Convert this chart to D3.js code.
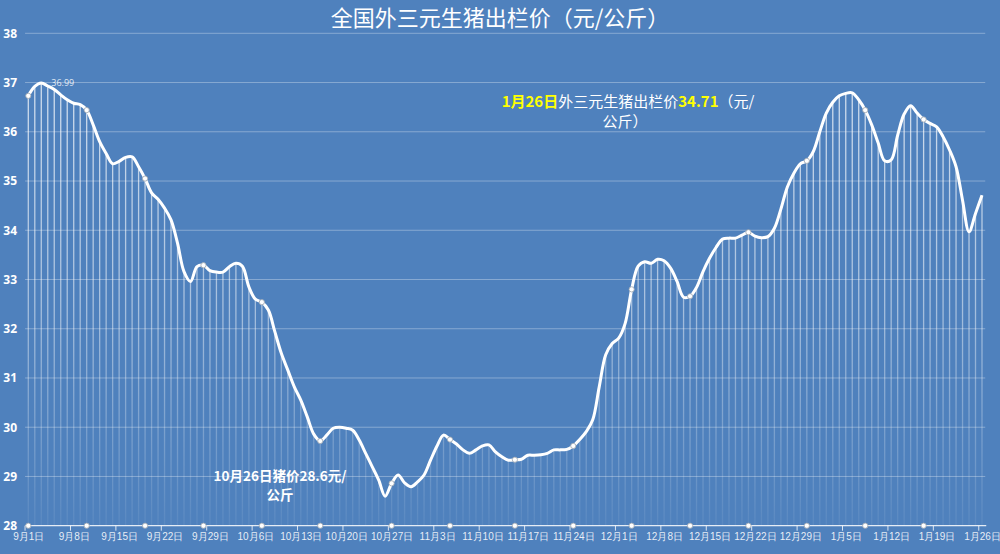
<!DOCTYPE html>
<html><head><meta charset="utf-8">
<script src="https://cdn.jsdelivr.net/npm/d3@7"></script>
<style>
html,body{margin:0;padding:0;background:#4f81bd;}
svg{display:block;font-family:"Noto Sans CJK SC","Noto Sans",sans-serif;}
</style></head>
<body>
<svg id="c" width="1000" height="554"></svg>
<script>
const title = "全国外三元生猪出栏价（元/公斤）";
const dayCount = 148; // daily categories, 9月1日 .. 1月26日
const prices = [
36.73,36.92,36.99,36.93,36.86,36.75,36.65,36.58,36.55,36.44,
36.14,35.80,35.56,35.35,35.40,35.48,35.49,35.29,35.05,34.76,
34.63,34.45,34.21,33.74,33.16,32.96,33.26,33.29,33.18,33.15,
33.15,33.26,33.33,33.27,32.85,32.60,32.54,32.38,31.94,31.50,
31.16,30.82,30.55,30.21,29.86,29.72,29.84,29.98,30.00,29.98,
29.94,29.74,29.47,29.20,28.93,28.60,28.86,29.03,28.87,28.79,
28.89,29.03,29.33,29.62,29.84,29.75,29.66,29.54,29.47,29.54,
29.62,29.64,29.50,29.40,29.33,29.34,29.35,29.43,29.43,29.44,
29.47,29.54,29.54,29.55,29.62,29.75,29.91,30.15,30.82,31.47,
31.70,31.81,32.11,32.80,33.27,33.36,33.33,33.41,33.38,33.23,
32.96,32.64,32.66,32.84,33.16,33.43,33.65,33.82,33.84,33.84,
33.90,33.96,33.88,33.85,33.87,34.04,34.43,34.88,35.16,35.35,
35.41,35.60,36.00,36.38,36.60,36.73,36.78,36.79,36.65,36.44,
36.14,35.77,35.41,35.43,35.93,36.36,36.53,36.38,36.25,36.17,
36.10,35.90,35.63,35.29,34.61,33.97,34.34,34.71];
const markerIdx = [0,9,18,27,36,45,56,65,75,84,93,102,111,120,129,138];
const tickIdx = [0,7,14,21,28,35,42,49,56,63,70,77,84,91,98,105,112,119,126,133,140,147];
const tickLabels = ["9月1日","9月8日","9月15日","9月22日","9月29日","10月6日","10月13日","10月20日","10月27日","11月3日","11月10日","11月17日","11月24日","12月1日","12月8日","12月15日","12月22日","12月29日","1月5日","1月12日","1月19日","1月26日"];
const yTicks = [28,29,30,31,32,33,34,35,36,37,38];
const peakLabelIdx = 2;
const note1 = [["1月26日","y"],["外三元生猪出栏价","w"],["34.71","y"],["（元/","w"]];
const note1b = "公斤）";
const note2 = ["10月26日猪价28.6元/","公斤"];

const svg = d3.select("#c");
const W=1000,H=554;
svg.append("rect").attr("width",W).attr("height",H).attr("fill","#4f81bd");

const idx = d3.range(dayCount);
const x = d3.scaleLinear().domain([0,dayCount-1]).range([28.3,982]);
const step = x(1)-x(0);
const y = d3.scaleLinear().domain([28,38]).range([525.7,33.3]);
const left = x(0)-step/2, right = x(dayCount-1)+step/2;

const defs = svg.append("defs");
const g = defs.append("linearGradient").attr("id","dg").attr("gradientUnits","userSpaceOnUse")
  .attr("x1",0).attr("x2",0).attr("y1",y(38)).attr("y2",y(28));
g.append("stop").attr("offset","0%").attr("stop-color","#fff").attr("stop-opacity",0.8);
g.append("stop").attr("offset","55%").attr("stop-color","#fff").attr("stop-opacity",0.5);
g.append("stop").attr("offset","100%").attr("stop-color","#fff").attr("stop-opacity",0.06);

svg.append("g").selectAll("line").data(yTicks.slice(1)).join("line")
  .attr("x1",left).attr("x2",right).attr("y1",d=>y(d)).attr("y2",d=>y(d))
  .attr("stroke","rgba(255,255,255,0.32)").attr("stroke-width",1);

const ya = svg.append("g").attr("transform",`translate(${left},0)`)
  .call(d3.axisLeft(y).tickValues(yTicks).tickSize(0).tickPadding(8).tickFormat(d3.format("d")));
ya.select(".domain").remove();
ya.selectAll("text").attr("fill","#fff").attr("font-size",12).attr("font-weight","bold")
  .attr("font-family","'Open Sans','Noto Sans',sans-serif");

svg.append("g").selectAll("line").data(idx).join("line")
  .attr("x1",i=>x(i)).attr("x2",i=>x(i)).attr("y1",i=>y(prices[i])).attr("y2",y(28))
  .attr("stroke","url(#dg)").attr("stroke-width",1.3);

const xa = svg.append("g").attr("transform",`translate(0,${y(28)})`);
xa.append("line").attr("x1",left).attr("x2",right+1).attr("y1",0).attr("y2",0)
  .attr("stroke","rgba(255,255,255,0.85)").attr("stroke-width",1.3);
xa.selectAll("line.tk").data(tickIdx).join("line").attr("class","tk")
  .attr("x1",i=>x(i)-step/2).attr("x2",i=>x(i)-step/2).attr("y1",0).attr("y2",5)
  .attr("stroke","rgba(255,255,255,0.8)");
const xaxis = d3.axisBottom(x).tickValues(tickIdx).tickSize(0).tickPadding(7)
  .tickFormat((d,k)=>tickLabels[k]);
const xl = svg.append("g").attr("transform",`translate(0,${y(28)})`).call(xaxis);
xl.select(".domain").remove();
xl.selectAll("text").attr("fill","rgba(255,255,255,0.88)").attr("font-size",10);

svg.append("g").selectAll("circle").data(markerIdx).join("circle")
  .attr("cx",i=>x(i)).attr("cy",y(28)).attr("r",2.6)
  .attr("fill","#fff").attr("stroke","#9aa3ad").attr("stroke-width",0.8);

const line = d3.line().x(i=>x(i)).y(i=>y(prices[i])).curve(d3.curveCatmullRom.alpha(0.5));
svg.append("path").datum(idx).attr("d",line).attr("fill","none")
  .attr("stroke","#fff").attr("stroke-width",3).attr("stroke-linejoin","round");

svg.append("g").selectAll("circle").data(markerIdx).join("circle")
  .attr("cx",i=>x(i)).attr("cy",i=>y(prices[i])).attr("r",2.6)
  .attr("fill","#fff").attr("stroke","#9aa3ad").attr("stroke-width",0.8);

svg.append("text").attr("x",x(peakLabelIdx)+10).attr("y",y(prices[peakLabelIdx])+3)
  .attr("fill","rgba(255,255,255,0.85)").attr("font-size",9)
  .attr("font-family","'Open Sans','Noto Sans',sans-serif")
  .text(prices[peakLabelIdx].toFixed(2));

svg.append("text").attr("x",500).attr("y",26).attr("text-anchor","middle")
  .attr("fill","#fff").attr("font-size",22).text(title);

const t1 = svg.append("text").attr("x",628).attr("y",107).attr("text-anchor","middle").attr("font-size",15);
note1.forEach(([s,c])=>t1.append("tspan").text(s)
  .attr("fill",c==="y"?"#ffff00":"#fff").attr("font-weight",c==="y"?"bold":"normal"));
svg.append("text").attr("x",625).attr("y",127).attr("text-anchor","middle").attr("font-size",15)
  .attr("fill","#fff").text(note1b);

svg.append("text").attr("x",280).attr("y",481).attr("text-anchor","middle").attr("font-size",13.5)
  .attr("font-weight","bold").attr("fill","#fff").text(note2[0]);
svg.append("text").attr("x",280).attr("y",500).attr("text-anchor","middle").attr("font-size",13.5)
  .attr("font-weight","bold").attr("fill","#fff").text(note2[1]);
</script>
</body></html>
